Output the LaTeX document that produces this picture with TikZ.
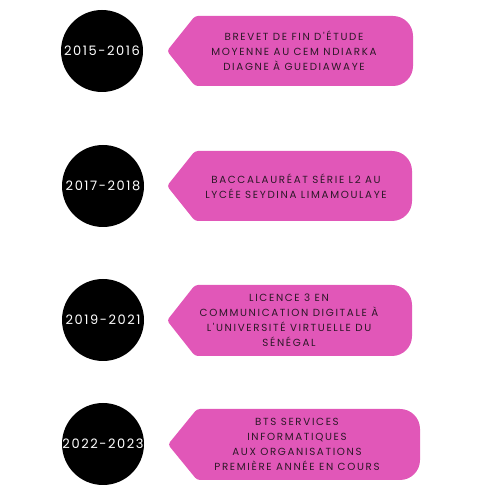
\documentclass[tikz,border=0pt]{standalone}
\usepackage{fontspec}
\newfontfamily\pinkfont[LetterSpace=16]{Poppins}
\newfontfamily\yearfont[LetterSpace=12]{Poppins}
\definecolor{pinkbox}{RGB}{225,87,184}
\definecolor{boxtext}{RGB}{45,24,40}
\begin{document}
\begin{tikzpicture}[x=1pt,y=1pt,
  yearcircle/.style={circle,fill=black,minimum size=82pt,inner sep=0pt,
    text=white,font=\yearfont\fontsize{13}{13}\selectfont},
  boxlabel/.style={align=center,text=boxtext,inner sep=0pt,
    font=\pinkfont\fontsize{10.3}{15}\selectfont}]
\useasboundingbox (0,0) rectangle (500,500);
% helper: \mybox{tipx}{bodyleft}{right}{top}{bottom}
\newcommand{\mybox}[5]{%
  \fill[pinkbox,rounded corners=3pt] (#1,{500-(#4+#5)/2}) -- (#2,{500-#4}) -- (#2+30,{500-#4})
   [rounded corners=20pt] -- (#3,{500-#4}) -- (#3,{500-#5}) [rounded corners=3pt] -- (#2+30,{500-#5}) -- (#2,{500-#5}) -- cycle;}
\mybox{167}{195}{413}{16}{86}
\mybox{167}{195}{412}{151}{221}
\mybox{167}{195}{412}{285}{356}
\mybox{168}{197}{420}{409}{480}
\node[yearcircle] (c1) at (102,449) {2015-2016};
\node[yearcircle] (c2) at (103,314) {2017-2018};
\node[yearcircle] (c3) at (103,180) {2019-2021};
\node[yearcircle] (c4) at (103,56) {2022-2023};
\node[boxlabel] (b1) at (294,449) {BREVET DE FIN D'ÉTUDE\\MOYENNE AU CEM NDIARKA\\DIAGNE À GUEDIAWAYE};
\node[boxlabel] (b2) at (296,314) {BACCALAURÉAT SÉRIE L2 AU\\LYCÉE SEYDINA LIMAMOULAYE};
\node[boxlabel] (b3) at (289,180) {LICENCE 3 EN\\COMMUNICATION DIGITALE À\\L'UNIVERSITÉ VIRTUELLE DU\\SÉNÉGAL};
\node[boxlabel] (b4) at (297,56) {BTS SERVICES\\INFORMATIQUES\\AUX ORGANISATIONS\\PREMIÈRE ANNÉE EN COURS};
\end{tikzpicture}
\end{document}
